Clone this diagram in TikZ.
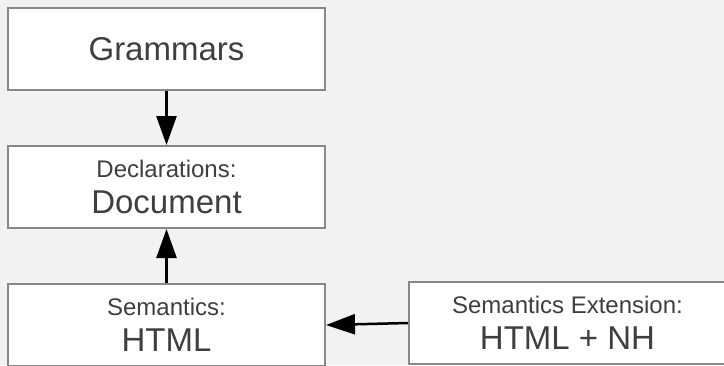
\documentclass[tikz,border=0pt]{standalone}
\usepackage{fontspec}
\setmainfont{Liberation Sans}
\usetikzlibrary{arrows.meta}
\definecolor{bgcol}{HTML}{F2F2F2}
\definecolor{boxline}{HTML}{888888}
\definecolor{txt}{HTML}{3F3F3F}
\tikzset{
  boxnode/.style={draw=boxline, line width=2pt, fill=white, rectangle,
    minimum width=317pt, minimum height=82pt, inner sep=0pt, align=center,
    text=txt, font=\fontsize{33}{36}\selectfont},
  conn/.style={line width=2.5pt, draw=black, -{Triangle[length=29pt,width=20pt]}, shorten >=0pt}
}
\newcommand{\smalltxt}[1]{{\fontsize{24}{36}\selectfont #1}}
\begin{document}
\begin{tikzpicture}[x=1pt,y=1pt]
\useasboundingbox (0,0) rectangle (724,-365);
\fill[bgcol] (0,0) rectangle (724,-365);
\node[boxnode] (b1) at (166.5,-49) {Grammars};
\node[boxnode] (b2) at (166.5,-187) {\smalltxt{Declarations:}\\Document};
\node[boxnode] (b3) at (166.5,-325) {\smalltxt{Semantics:}\\HTML};
\node[boxnode] (b4) at (567.5,-323) {\smalltxt{Semantics Extension:}\\HTML + NH};
\draw[conn] (b1.south) -- (b2.north);
\draw[conn] (b3.north) -- (b2.south);
\draw[conn] (b4.west) -- (b3.east);
\end{tikzpicture}
\end{document}
